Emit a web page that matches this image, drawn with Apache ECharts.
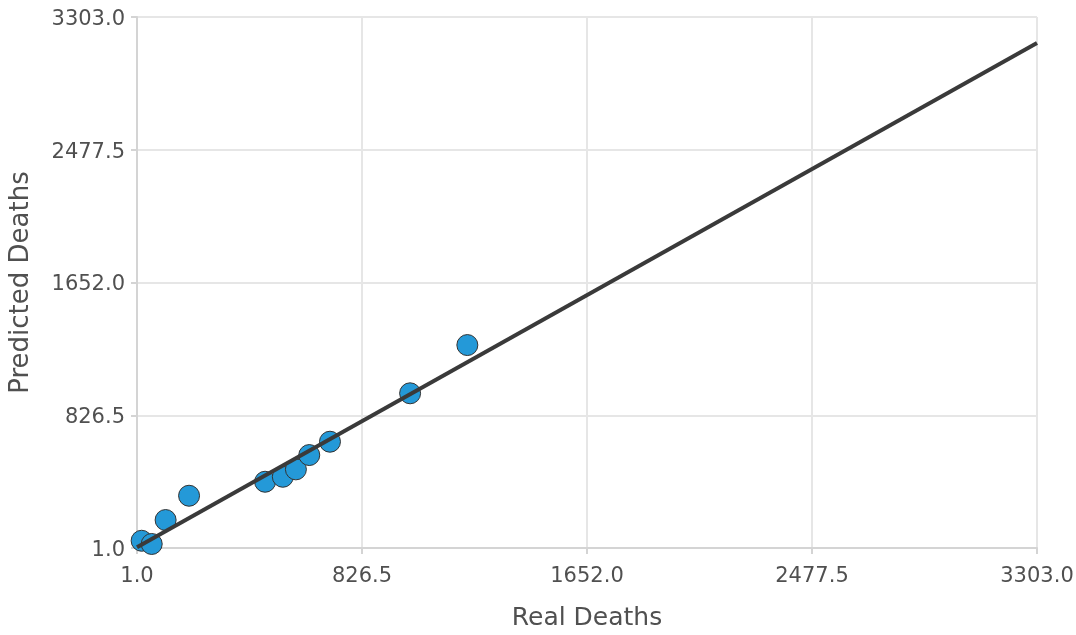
<!DOCTYPE html>
<html>
  <head>
    <meta charset="UTF-8" />
    <title>Real vs Predicted Deaths</title>
    <style>
      html, body { margin: 0; padding: 0; background: #fff; }
      #chart { width: 1076px; height: 635px; }
    </style>
    <script type="text/javascript" src="https://cdn.jsdelivr.net/npm/echarts@6/dist/echarts.min.js"></script>
  </head>
  <body>
    <div id="chart"></div>
    <script>
      // observed points
      var realDeaths = [18, 55, 106, 192, 471, 536, 584, 633, 709, 1003, 1213];
      var predictedDeaths = [46, 26, 175, 326, 413, 444, 490, 579, 662, 963, 1263];

      // fitted line end points
      var fitX = [1, 3303];
      var fitY = [6, 3142];

      // axis range and tick step
      var axisMin = 1;
      var axisMax = 3303;
      var axisStep = 825.5;

      // ticks start at min, so run the axes from 0 and add the offset back in labels
      function shift(v) { return v - axisMin; }
      function label(v) { return (v + axisMin).toFixed(1); }

      var points = realDeaths.map(function (x, i) {
        return [shift(x), shift(predictedDeaths[i])];
      });
      var fit = fitX.map(function (x, i) {
        return [shift(x), shift(fitY[i])];
      });

      var font = "DejaVu Sans";
      var textColor = "#505050";

      function axis(name, gap, nameSize) {
        return {
          type: "value",
          min: 0,
          max: axisMax - axisMin,
          interval: axisStep,
          name: name,
          nameLocation: "middle",
          nameGap: gap,
          nameTextStyle: { fontFamily: font, fontSize: nameSize, color: textColor },
          axisLine: { show: true, lineStyle: { color: "#d4d4d4", width: 2 } },
          axisTick: { show: true, length: 6, lineStyle: { color: "#d4d4d4", width: 2 } },
          axisLabel: {
            fontFamily: font,
            fontSize: 21,
            color: textColor,
            formatter: label
          },
          splitLine: { show: true, lineStyle: { color: "#e6e6e6", width: 2 } }
        };
      }

      var xAxis = axis("Real Deaths", 58, 25);
      xAxis.axisLabel.margin = 18;
      var yAxis = axis("Predicted Deaths", 103, 26);
      yAxis.axisLabel.margin = 12;
      yAxis.axisLabel.verticalAlign = "top";
      yAxis.axisLabel.lineHeight = 5;

      var myChart = echarts.init(document.getElementById("chart"));
      myChart.setOption({
        animation: false,
        grid: { left: 137, right: 39, top: 17, bottom: 87, outerBoundsMode: "none" },
        xAxis: xAxis,
        yAxis: yAxis,
        series: [
          {
            type: "scatter",
            data: points,
            symbolSize: 21,
            itemStyle: { color: "#2499d8", borderColor: "#333", borderWidth: 1, opacity: 1 }
          },
          {
            type: "line",
            data: fit,
            showSymbol: false,
            lineStyle: { color: "#3a3a3a", width: 4 }
          }
        ]
      });
    </script>
  </body>
</html>
